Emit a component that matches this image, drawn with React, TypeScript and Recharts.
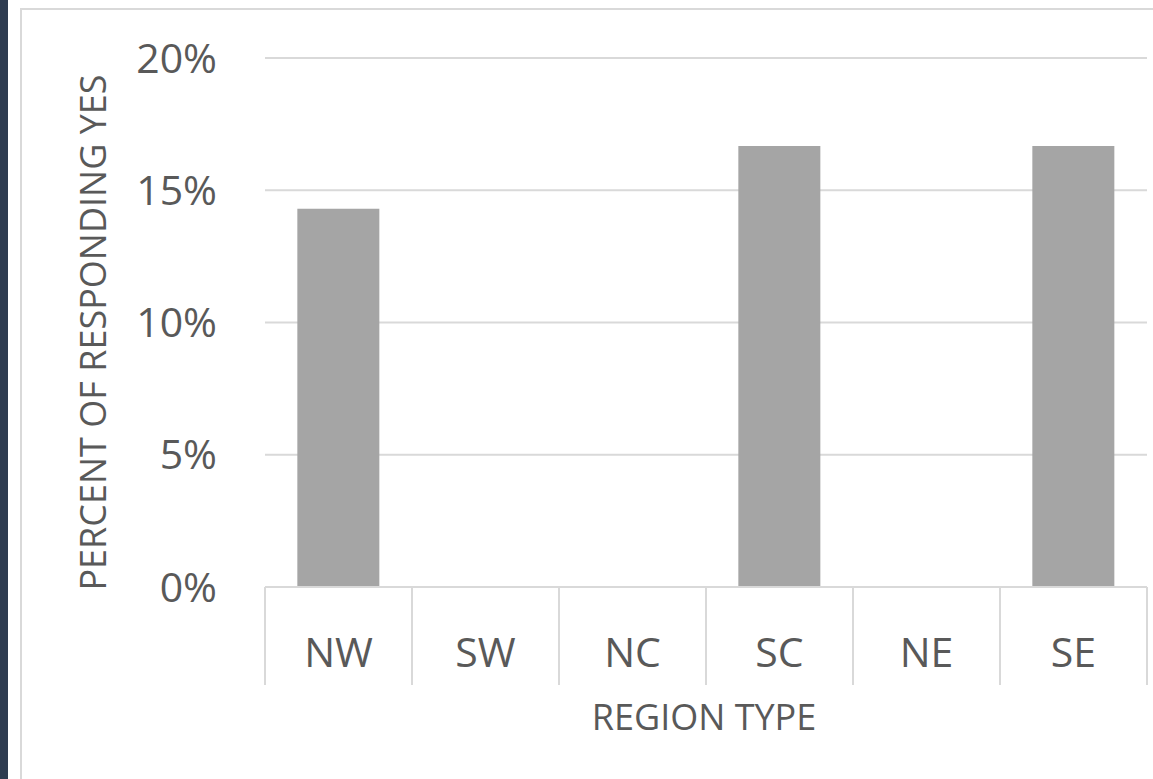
import React from "react";
import { BarChart, Bar, XAxis, YAxis, CartesianGrid } from "recharts";

// survey share answering "yes", by region
const regions = ["NW", "SW", "NC", "SC", "NE", "SE"];
const yesShare = [0.143, 0, 0, 0.1667, 0, 0.1667];
const yTicks = [0, 0.05, 0.1, 0.15, 0.2];

const data = regions.map((region, i) => ({ region, yes: yesShare[i] }));

const W = 1153;
const H = 779;
const Y_AXIS_W = 265;
const RIGHT = 6;
const PLOT_W = W - Y_AXIS_W - RIGHT;
const BAND = PLOT_W / regions.length;
const FONT = "'Open Sans', 'Liberation Sans', sans-serif";
const TEXT = "#595959";
const LINE = "#d9d9d9";

const RegionTick = (props: any) => {
  const { x, y, payload, index } = props;
  const left = x - BAND / 2;
  const right = x + BAND / 2;
  return (
    <g>
      <line x1={left} y1={y} x2={left} y2={y + 98} stroke={LINE} strokeWidth={2} />
      {index === regions.length - 1 && (
        <line x1={right} y1={y} x2={right} y2={y + 98} stroke={LINE} strokeWidth={2} />
      )}
      <text x={x} y={y + 80} textAnchor="middle" fill={TEXT} fontSize={41} fontFamily={FONT}>
        {payload.value}
      </text>
    </g>
  );
};

const XTitle = (props: any) => {
  const vb = props.viewBox;
  return (
    <text x={vb.x + vb.width / 2 - 2} y={vb.y + 143} textAnchor="middle" fill={TEXT} fontSize={36} fontFamily={FONT}>
      REGION TYPE
    </text>
  );
};

const YTitle = (props: any) => {
  const vb = props.viewBox;
  const cx = vb.x + 92;
  const cy = vb.y + vb.height / 2 + 10;
  return (
    <text
      x={cx}
      y={cy}
      transform={`rotate(-90 ${cx} ${cy})`}
      textAnchor="middle"
      dominantBaseline="central"
      fill={TEXT}
      fontSize={36}
      fontFamily={FONT}
    >
      PERCENT OF RESPONDING YES
    </text>
  );
};

export default function App() {
  return (
    <div style={{ position: "absolute", left: 0, top: 0, width: W, height: H, overflow: "hidden", background: "#fff" }}>
      <div style={{ position: "absolute", left: 0, top: 0, width: 8, height: H, background: "#2e3c50" }} />
      <div
        style={{
          position: "absolute",
          left: 20,
          top: 8,
          width: W,
          height: H,
          border: `2px solid ${LINE}`,
          background: "#fff",
        }}
      />
      <div style={{ position: "absolute", left: 0, top: 0 }}>
        <BarChart
          width={W}
          height={H}
          data={data}
          margin={{ top: 58, right: RIGHT, bottom: 0, left: 0 }}
          barCategoryGap="22%"
        >
          <CartesianGrid vertical={false} stroke={LINE} strokeWidth={2} />
          <XAxis
            dataKey="region"
            height={192}
            axisLine={{ stroke: LINE, strokeWidth: 2 }}
            tickLine={false}
            tickSize={0}
            tickMargin={0}
            tick={<RegionTick />}
            interval={0}
            label={<XTitle />}
          />
          <YAxis
            width={Y_AXIS_W}
            domain={[0, 0.2]}
            ticks={yTicks}
            axisLine={false}
            tickLine={false}
            tickMargin={42}
            tickFormatter={(v: number) => `${Math.round(v * 100)}%`}
            tick={{ fill: TEXT, fontSize: 41, fontFamily: FONT }}
            label={<YTitle />}
          />
          <Bar dataKey="yes" fill="#a5a5a5" isAnimationActive={false} />
        </BarChart>
      </div>
    </div>
  );
}
